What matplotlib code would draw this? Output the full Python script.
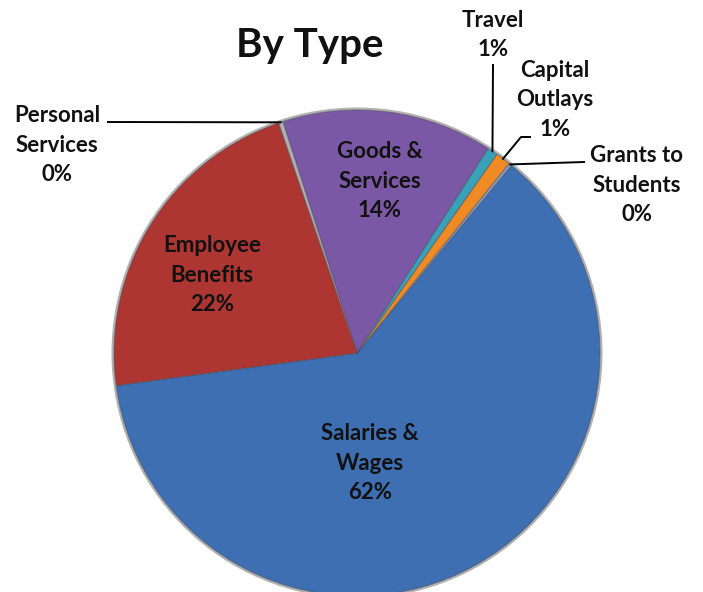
import matplotlib.pyplot as plt
import numpy as np

W, H = 703, 592

# data (counter-clockwise order, starting at left edge of Salaries & Wages)
labels = ["Salaries &\nWages", "Grants to\nStudents", "Capital\nOutlays", "Travel",
          "Goods &\nServices", "Personal\nServices", "Employee\nBenefits"]
values = [61.9, 0.2, 1.0, 0.7, 14.0, 0.3, 21.9]
colors = ["#3d6fb2", "#8aa0c8", "#ef8a24", "#38a2bb", "#7b58a5", "#b0b0b0", "#ad3633"]

# label text positions in pixels (x, y from top)
label_pos = [(370, 463), (637, 185), (555, 100), (493, 35),
             (380, 181), (57, 145), (212, 275)]
# leader lines: (start point px, optional elbow px)
leaders = {1: ((584, 162), None), 2: ((530, 137), (521, 137)),
           3: ((493, 65), None), 5: ((108, 122), None)}

plt.rcParams['font.family'] = ['Lato', 'DejaVu Sans']

fig = plt.figure(figsize=(W / 100, H / 100), dpi=100)
ax = fig.add_axes([0, 0, 1, 1])

cx, cy, r = 357, H - 353, 243
wedges, _ = ax.pie(values, colors=colors, startangle=187.7, counterclock=True,
                   center=(cx, cy), radius=r, frame=True,
                   wedgeprops=dict(edgecolor=(0.25, 0.25, 0.3, 0.35), linewidth=1.0))

for w in wedges:
    w.set_zorder(2)
# soft shadow rim
ax.add_patch(plt.Circle((cx, cy), r + 1, fill=False, ec=(0, 0, 0, 0.3), lw=2.2, zorder=1))

total = sum(values)
for i, (w, lab) in enumerate(zip(wedges, labels)):
    pct = "{:.0f}%".format(values[i] / total * 100)
    tx, ty = label_pos[i]
    ax.text(tx, H - ty, lab + "\n" + pct, ha="center", va="center",
            fontsize=16, fontweight="bold", linespacing=1.5, color="#111111", zorder=5)
    if i in leaders:
        (sx, sy), elbow = leaders[i]
        mid = np.deg2rad((w.theta1 + w.theta2) / 2)
        px, py = cx + r * np.cos(mid), cy + r * np.sin(mid)
        xs, ys = [sx], [H - sy]
        if elbow is not None:
            xs.append(elbow[0])
            ys.append(H - elbow[1])
        xs.append(px)
        ys.append(py)
        ax.plot(xs, ys, color="black", lw=1.4, zorder=4)

ax.text(310, H - 45, "By Type", ha="center", va="center", fontsize=29,
        fontweight="bold", color="#111111")

ax.set_xlim(0, W)
ax.set_ylim(0, H)
ax.axis("off")

fig.savefig("out.png", dpi=100)
